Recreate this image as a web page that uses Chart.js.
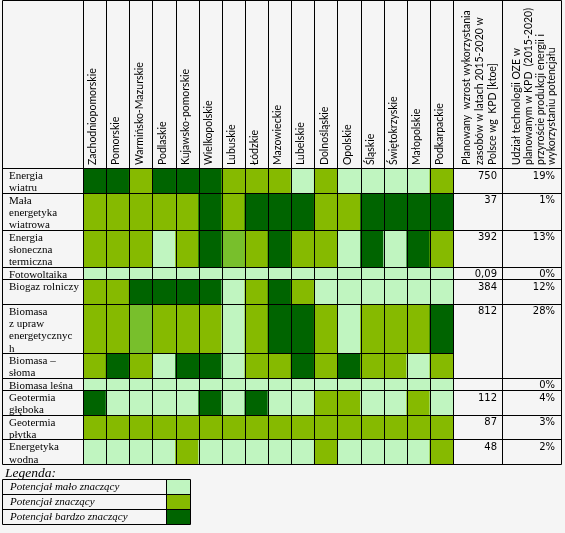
<!DOCTYPE html>
<html lang="pl">
<head>
<meta charset="utf-8">
<script src="https://cdn.jsdelivr.net/npm/chart.js@4.4.1/dist/chart.umd.min.js"></script>
<style>
  html, body { margin: 0; padding: 0; background: #f5f5f5; }
  #wrap { width: 565px; height: 533px; position: relative; }
</style>
</head>
<body>
<div id="wrap"><canvas id="chart"></canvas></div>
<script>
// --- DANE ---
const regions = ['Zachodniopomorskie', 'Pomorskie', 'Warmińsko-Mazurskie', 'Podlaskie',
  'Kujawsko-pomorskie', 'Wielkopolskie', 'Lubuskie', 'Łódzkie', 'Mazowieckie', 'Lubelskie',
  'Dolnośląskie', 'Opolskie', 'Śląskie', 'Świętokrzyskie', 'Małopolskie', 'Podkarpackie'];

const technologies = [
  ['Energia', 'wiatru'],
  ['Mała', 'energetyka', 'wiatrowa'],
  ['Energia', 'słoneczna', 'termiczna'],
  ['Fotowoltaika'],
  ['Biogaz rolniczy'],
  ['Biomasa', 'z upraw', 'energetycznyc', 'h'],
  ['Biomasa –', 'słoma'],
  ['Biomasa leśna'],
  ['Geotermia', 'głęboka'],
  ['Geotermia', 'płytka'],
  ['Energetyka', 'wodna']
];
// wysokość wiersza w liniach tekstu
const rowLines = [2, 3, 3, 1, 2, 4, 2, 1, 2, 2, 2];

// 1 = mało znaczący, 2 = znaczący, 3 = bardzo znaczący, 4 = odcień pośredni
const potential = [
  [3, 3, 2, 3, 3, 3, 2, 2, 2, 1, 2, 1, 1, 1, 1, 2],
  [2, 2, 2, 2, 2, 3, 2, 3, 3, 3, 2, 2, 3, 3, 3, 3],
  [2, 2, 2, 1, 2, 3, 4, 2, 3, 2, 2, 1, 3, 1, 3, 2],
  [1, 1, 1, 1, 1, 1, 1, 1, 1, 1, 1, 1, 1, 1, 1, 1],
  [2, 2, 3, 3, 3, 3, 1, 2, 3, 2, 1, 1, 1, 1, 1, 1],
  [2, 2, 4, 2, 2, 2, 1, 2, 3, 3, 2, 1, 2, 2, 2, 3],
  [2, 3, 2, 1, 3, 3, 1, 2, 2, 3, 2, 3, 2, 2, 1, 2],
  [1, 1, 1, 1, 1, 1, 1, 1, 1, 1, 1, 1, 1, 1, 1, 1],
  [3, 1, 1, 1, 1, 3, 1, 3, 1, 1, 2, 2, 1, 1, 2, 1],
  [2, 2, 2, 2, 2, 2, 2, 2, 2, 2, 2, 2, 2, 2, 2, 2],
  [1, 1, 1, 1, 2, 1, 1, 1, 1, 1, 2, 1, 1, 1, 1, 2]
];

// planowany wzrost [ktoe] i udział w KPD [%]; null w obu = komórka scalona z wierszem wyżej
const growth = [750, 37, 392, 0.09, 384, 812, null, null, 112, 87, 48];
const share = [19, 1, 13, 0, 12, 28, null, 0, 4, 3, 2];

const growthHeader = ['Planowany  wzrost wykorzystania', 'zasobów w latach 2015-2020 w', 'Polsce wg  KPD [ktoe]'];
const shareHeader = ['Udział technologii OZE w', 'planowanym w KPD  (2015-2020)', 'przyroście produkcji energii i', 'wykorzystaniu potencjału'];

const legendLabels = ['Potencjał mało znaczący', 'Potencjał znaczący', 'Potencjał bardzo znaczący'];
const legendLevels = [1, 2, 3];

// --- KOLORY I CZCIONKI ---
const levelColors = { 1: '#c0f5c0', 2: '#86ba00', 3: '#006400', 4: '#78bf2c' };
const serif = '"Liberation Serif", serif';
const sans = 'Lato, sans-serif';

// --- UKŁAD TABELI ---
const tableLeft = 2, tableTop = 0;
const colAWidth = 49, colBWidth = 59;

const rowStart = [];
let acc = 0;
rowLines.forEach(n => { rowStart.push(acc); acc += n; });
const totalLines = acc;

const datasets = technologies.map((t, i) => ({
  label: t.join(' '),
  data: regions.map(() => [rowStart[i], rowStart[i] + rowLines[i]]),
  backgroundColor: potential[i].map(v => levelColors[v]),
  borderWidth: 0
}));

const px = v => Math.round(v) + 0.5;

function line(ctx, x1, y1, x2, y2) {
  ctx.beginPath();
  ctx.moveTo(x1, y1);
  ctx.lineTo(x2, y2);
  ctx.stroke();
}

const tablePlugin = {
  id: 'tableFrame',
  afterDatasetsDraw(chart) {
    const { ctx, chartArea: a, scales: { x, y } } = chart;
    const colA = a.right, colB = a.right + colAWidth, right = colB + colBWidth;
    const top = tableTop, head = a.top, bottom = a.bottom;
    const rowY = rowStart.map(v => y.getPixelForValue(v));
    rowY.push(y.getPixelForValue(totalLines));
    const lineH = (bottom - head) / totalLines;

    ctx.save();
    ctx.strokeStyle = '#000';
    ctx.lineWidth = 1;

    // pionowe linie
    line(ctx, px(tableLeft), px(top), px(tableLeft), px(bottom));
    for (let i = 0; i <= regions.length; i++) {
      const xv = px(x.getPixelForValue(i - 0.5));
      line(ctx, xv, px(top), xv, px(bottom));
    }
    line(ctx, px(colB), px(top), px(colB), px(bottom));
    line(ctx, px(right), px(top), px(right), px(bottom));

    // poziome linie
    line(ctx, px(tableLeft), px(top), px(right), px(top));
    rowY.forEach((yv, i) => {
      const merged = i < growth.length && growth[i] === null && share[i] === null;
      line(ctx, px(tableLeft), px(yv), px(merged ? colA : right), px(yv));
    });

    // etykiety wierszy
    ctx.fillStyle = '#000';
    ctx.font = '11px ' + serif;
    ctx.textAlign = 'left';
    ctx.textBaseline = 'alphabetic';
    technologies.forEach((t, i) => {
      t.forEach((s, k) => ctx.fillText(s, tableLeft + 7, rowY[i] + 11 + k * lineH));
    });

    // wartości liczbowe
    ctx.font = '10px "DejaVu Sans", sans-serif';
    ctx.textAlign = 'right';
    growth.forEach((g, i) => {
      if (g !== null) ctx.fillText(String(g).replace('.', ','), colB - 5, rowY[i] + 10.5);
      if (share[i] !== null) ctx.fillText(share[i] + '%', right - 6, rowY[i] + 10.5);
    });

    // nagłówki kolumn liczbowych
    ctx.font = '10.5px ' + sans;
    ctx.textAlign = 'left';
    ctx.textBaseline = 'middle';
    const rotated = (lines, x0, step) => {
      ctx.save();
      ctx.translate(x0, head - 3);
      ctx.rotate(-Math.PI / 2);
      lines.forEach((s, k) => ctx.fillText(s, 0, k * step));
      ctx.restore();
    };
    rotated(growthHeader, colA + 14, 13);
    rotated(shareHeader, colB + 15, 11.7);

    // legenda
    const lgTop = bottom + 15, lgRow = 15, lgSplit = 166, lgRight = 190;
    ctx.font = 'italic 13.5px ' + serif;
    ctx.textBaseline = 'alphabetic';
    ctx.fillText('Legenda:', tableLeft + 3, bottom + 13);
    ctx.font = 'italic 11px ' + serif;
    legendLabels.forEach((s, i) => {
      const yt = lgTop + i * lgRow;
      ctx.fillStyle = levelColors[legendLevels[i]];
      ctx.fillRect(lgSplit, yt, lgRight - lgSplit, lgRow);
      ctx.fillStyle = '#000';
      ctx.fillText(s, tableLeft + 8, yt + 11);
      line(ctx, px(tableLeft), px(yt), px(lgRight), px(yt));
    });
    const lgBottom = lgTop + legendLabels.length * lgRow;
    line(ctx, px(tableLeft), px(lgBottom), px(lgRight), px(lgBottom));
    line(ctx, px(tableLeft), px(lgTop), px(tableLeft), px(lgBottom));
    line(ctx, px(lgSplit), px(lgTop), px(lgSplit), px(lgBottom));
    line(ctx, px(lgRight), px(lgTop), px(lgRight), px(lgBottom));

    ctx.restore();
  }
};

new Chart(document.getElementById('chart'), {
  type: 'bar',
  data: { labels: regions, datasets: datasets },
  options: {
    responsive: true,
    maintainAspectRatio: false,
    animation: false,
    layout: { padding: { left: 83, right: 112, top: 0, bottom: 69 } },
    datasets: { bar: { categoryPercentage: 1, barPercentage: 1, grouped: false } },
    plugins: { legend: { display: false }, tooltip: { enabled: false } },
    scales: {
      x: {
        position: 'top',
        offset: true,
        grid: { display: false, drawTicks: false },
        border: { display: false },
        ticks: {
          minRotation: 90, maxRotation: 90, autoSkip: false, padding: 3, labelOffset: 11,
          color: '#000', font: { family: sans, size: 10.5 }
        },
        afterFit: s => { s.height = 168; }
      },
      y: { display: false, reverse: true, min: 0, max: totalLines }
    }
  },
  plugins: [tablePlugin]
});
</script>
</body>
</html>
